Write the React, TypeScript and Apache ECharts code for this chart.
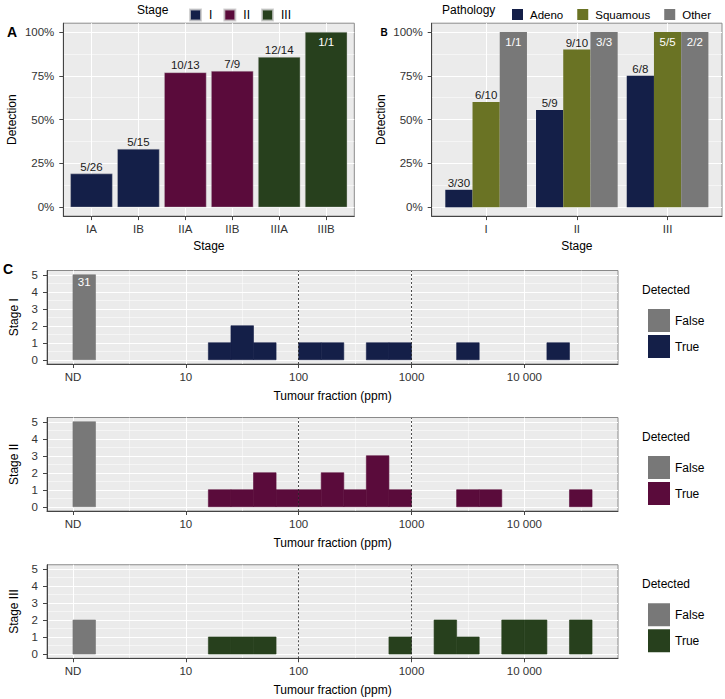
import React, { useEffect, useRef } from 'react';
import * as echarts from 'echarts';

const FONT = "'Liberation Sans', Arial, Helvetica, sans-serif";

// ---------- Panel A: detection by sub-stage ----------
const subStages = ['IA', 'IB', 'IIA', 'IIB', 'IIIA', 'IIIB'];
const subStageGroup = ['I', 'I', 'II', 'II', 'III', 'III'];
const subStageDetected = [5, 5, 10, 7, 12, 1];
const subStageTotal = [26, 15, 13, 9, 14, 1];
const stageGroups = ['I', 'II', 'III'];
const stageColors = ['#141f48', '#5a0b3b', '#27401d'];

// ---------- Panel B: detection by stage and pathology ----------
const pathStages = ['I', 'II', 'III'];
const pathologies = ['Adeno', 'Squamous', 'Other'];
const pathColors = ['#141f48', '#6a7324', '#787878'];
const adenoDetected = [3, 5, 6];
const adenoTotal = [30, 9, 8];
const squamousDetected = [6, 9, 5];
const squamousTotal = [10, 10, 5];
const otherDetected = [1, 3, 2];
const otherTotal = [1, 3, 2];

const pctTicks = [0, 0.25, 0.5, 0.75, 1];
const pctMinor = [0.125, 0.375, 0.625, 0.875];

// ---------- Panel C: tumour fraction histograms (log10 ppm, 0 = ND) ----------
const tfTickValues = [0, 1, 2, 3, 4];
const tfTickLabels = ['ND', '10', '100', '1000', '10 000'];
const tfMinor = [0.5, 1.5, 2.5, 3.5, 4.5];
const tfThresholds = [2, 3];
const binWidth = 0.2;
const countTicks = [0, 1, 2, 3, 4, 5];
const countMinor = [0.5, 1.5, 2.5, 3.5, 4.5];
const countCap = 5;
const falseColor = '#787878';

const rowLabels = ['Stage I', 'Stage II', 'Stage III'];
const ndCounts = [31, 5, 2];
const stage1BinStarts = [1.2, 1.4, 1.6, 2.0, 2.2, 2.6, 2.8, 3.4, 4.2];
const stage1BinCounts = [1, 2, 1, 1, 1, 1, 1, 1, 1];
const stage2BinStarts = [1.2, 1.4, 1.6, 1.8, 2.0, 2.2, 2.4, 2.6, 2.8, 3.4, 3.6, 4.4];
const stage2BinCounts = [1, 1, 2, 1, 1, 2, 1, 3, 1, 1, 1, 1];
const stage3BinStarts = [1.2, 1.4, 1.6, 2.8, 3.2, 3.4, 3.8, 4.0, 4.4];
const stage3BinCounts = [1, 1, 1, 1, 2, 1, 2, 2, 2];
const rowBinStarts = [stage1BinStarts, stage2BinStarts, stage3BinStarts];
const rowBinCounts = [stage1BinCounts, stage2BinCounts, stage3BinCounts];

// ---------- layout ----------
const rowTops = [270.5, 417.5, 564.75];
const rowHeight = 93.5;

const tickText = { fontFamily: FONT, fontSize: 11.5, color: '#333' };
const nameText = { fontFamily: FONT, fontSize: 12, color: '#000' };
const majorSplit = { show: true, lineStyle: { color: '#ffffff', width: 1 } };
const minorSplit = { show: true, lineStyle: { color: '#ffffff', width: 0.5 } };
const axisLineStyle = { show: true, onZero: false, lineStyle: { color: '#444', width: 1 } };
const tickStyle = { show: true, length: 4, lineStyle: { color: '#444', width: 1 } };

function barLabel(det: number, tot: number) {
  const full = det === tot;
  return {
    show: true,
    formatter: `${det}/${tot}`,
    position: full ? 'insideTop' : 'top',
    distance: full ? 4 : 1,
    color: full ? '#ffffff' : '#1a1a1a',
    fontSize: 11.5,
    fontFamily: FONT,
  };
}

function histRender(params: any, api: any) {
  const x0 = api.value(0);
  const x1 = api.value(1);
  const n = api.value(2);
  const shown = Math.min(n, countCap);
  const p0 = api.coord([x0, 0]);
  const p1 = api.coord([x1, shown]);
  const color = api.visual('color');
  const el: any = {
    type: 'rect',
    shape: { x: p0[0], y: p1[1], width: p1[0] - p0[0], height: p0[1] - p1[1] },
    style: { fill: color, stroke: color, lineWidth: 0.6 },
  };
  if (n > countCap) {
    el.textContent = { style: { text: String(n), fill: '#ffffff', fontSize: 11.5, fontFamily: FONT } };
    el.textConfig = { position: 'insideTop', distance: 2 };
  }
  return el;
}

function buildOption() {
  const grid: any[] = [
    { left: 63.3, top: 23.2, width: 291, height: 192.9 },
    { left: 431.7, top: 23.2, width: 290.3, height: 192.9 },
    ...rowTops.map((t) => ({ left: 37.3, top: t, width: 580.7, height: rowHeight })),
  ].map((g) => ({ ...g, show: true, backgroundColor: '#ebebeb', borderColor: '#8a8a8a', borderWidth: 1, containLabel: false }));

  const subIdx = subStages.map((_, i) => i);
  const pathIdx = pathStages.map((_, i) => i);

  const xAxis: any[] = [
    {
      type: 'value', gridIndex: 0, min: -0.6, max: 5.6,
      axisLine: axisLineStyle,
      axisTick: { ...tickStyle, customValues: subIdx },
      axisLabel: { ...tickText, margin: 7, customValues: subIdx, formatter: (v: number) => subStages[Math.round(v)] },
      splitLine: majorSplit,
      name: 'Stage', nameLocation: 'middle', nameGap: 24, nameTextStyle: nameText,
    },
    {
      type: 'value', gridIndex: 1, min: -0.6, max: 2.6,
      axisLine: axisLineStyle,
      axisTick: { ...tickStyle, customValues: pathIdx },
      axisLabel: { ...tickText, margin: 7, customValues: pathIdx, formatter: (v: number) => pathStages[Math.round(v)] },
      splitLine: majorSplit,
      name: 'Stage', nameLocation: 'middle', nameGap: 24, nameTextStyle: nameText,
    },
    ...rowTops.map((_, r) => ({
      type: 'value', gridIndex: 2 + r, min: -0.23, max: 4.83,
      axisLine: axisLineStyle,
      axisTick: { ...tickStyle, customValues: tfTickValues },
      axisLabel: {
        ...tickText, margin: 7, customValues: tfTickValues,
        formatter: (v: number) => tfTickLabels[tfTickValues.indexOf(Math.round(v))],
      },
      splitLine: majorSplit,
      name: 'Tumour fraction (ppm)', nameLocation: 'middle', nameGap: 26, nameTextStyle: nameText,
    })),
    ...rowTops.map((_, r) => ({
      type: 'value', gridIndex: 2 + r, min: -0.23, max: 4.83,
      axisLine: { show: false, onZero: false },
      axisTick: { show: false, customValues: tfMinor },
      axisLabel: { show: false, customValues: tfMinor },
      splitLine: minorSplit,
    })),
  ];

  const pctFmt = (v: number) => `${Math.round(v * 100)}%`;
  const yAxis: any[] = [
    {
      type: 'value', gridIndex: 0, min: -0.05, max: 1.05,
      axisLine: axisLineStyle,
      axisTick: { ...tickStyle, customValues: pctTicks },
      axisLabel: { ...tickText, margin: 9, customValues: pctTicks, formatter: pctFmt },
      splitLine: majorSplit,
      name: 'Detection', nameLocation: 'middle', nameRotate: 90, nameGap: 45, nameTextStyle: nameText,
    },
    {
      type: 'value', gridIndex: 0, min: -0.05, max: 1.05,
      axisLine: { show: false, onZero: false },
      axisTick: { show: false, customValues: pctMinor },
      axisLabel: { show: false, customValues: pctMinor },
      splitLine: minorSplit,
    },
    {
      type: 'value', gridIndex: 1, min: -0.05, max: 1.05,
      axisLine: axisLineStyle,
      axisTick: { ...tickStyle, customValues: pctTicks },
      axisLabel: { ...tickText, margin: 9, customValues: pctTicks, formatter: pctFmt },
      splitLine: majorSplit,
      name: 'Detection', nameLocation: 'middle', nameRotate: 90, nameGap: 45, nameTextStyle: nameText,
    },
    {
      type: 'value', gridIndex: 1, min: -0.05, max: 1.05,
      axisLine: { show: false, onZero: false },
      axisTick: { show: false, customValues: pctMinor },
      axisLabel: { show: false, customValues: pctMinor },
      splitLine: minorSplit,
    },
    ...rowTops.map((_, r) => ({
      type: 'value', gridIndex: 2 + r, min: -0.25, max: 5.25,
      axisLine: axisLineStyle,
      axisTick: { ...tickStyle, customValues: countTicks },
      axisLabel: { ...tickText, margin: 9, customValues: countTicks, formatter: (v: number) => String(Math.round(v)) },
      splitLine: majorSplit,
      name: rowLabels[r], nameLocation: 'middle', nameRotate: 90, nameGap: 27, nameTextStyle: nameText,
    })),
    ...rowTops.map((_, r) => ({
      type: 'value', gridIndex: 2 + r, min: -0.25, max: 5.25,
      axisLine: { show: false, onZero: false },
      axisTick: { show: false, customValues: countMinor },
      axisLabel: { show: false, customValues: countMinor },
      splitLine: minorSplit,
    })),
  ];

  const series: any[] = [];

  // Panel A
  stageGroups.forEach((g, gi) => {
    const data: any[] = [];
    subStages.forEach((_, i) => {
      if (subStageGroup[i] !== g) return;
      data.push({
        value: [i, subStageDetected[i] / subStageTotal[i]],
        label: barLabel(subStageDetected[i], subStageTotal[i]),
      });
    });
    series.push({
      type: 'bar', name: g, xAxisIndex: 0, yAxisIndex: 0, stack: 'stageA', barWidth: '90%',
      itemStyle: { color: stageColors[gi], borderColor: 'rgba(200,200,200,0.8)', borderWidth: 0.5 },
      data,
    });
  });

  // Panel B
  const pathDet = [adenoDetected, squamousDetected, otherDetected];
  const pathTot = [adenoTotal, squamousTotal, otherTotal];
  pathologies.forEach((p, pi) => {
    series.push({
      type: 'bar', name: p, xAxisIndex: 1, yAxisIndex: 2, barGap: '0%', barCategoryGap: '10%',
      itemStyle: { color: pathColors[pi] },
      data: pathStages.map((_, j) => ({
        value: [j, pathDet[pi][j] / pathTot[pi][j]],
        label: barLabel(pathDet[pi][j], pathTot[pi][j]),
      })),
    });
  });

  // Panel C
  rowTops.forEach((_, r) => {
    series.push({
      type: 'custom', name: 'False', xAxisIndex: 2 + r, yAxisIndex: 4 + r,
      itemStyle: { color: falseColor },
      encode: { x: [0, 1], y: 2 },
      renderItem: histRender,
      data: [[0, binWidth, ndCounts[r]]],
    });
    series.push({
      type: 'custom', name: 'True', xAxisIndex: 2 + r, yAxisIndex: 4 + r,
      itemStyle: { color: stageColors[r] },
      encode: { x: [0, 1], y: 2 },
      renderItem: histRender,
      data: rowBinStarts[r].map((s, k) => [s, s + binWidth, rowBinCounts[r][k]]),
      markLine: {
        silent: true, symbol: ['none', 'none'], label: { show: false },
        lineStyle: { color: '#222', width: 0.8, type: [2, 2] },
        data: tfThresholds.map((t) => ({ xAxis: t })),
      },
    });
  });

  const legendText = { fontFamily: FONT, fontSize: 12, color: '#000' };
  const legend: any[] = [
    {
      data: stageGroups, left: 184, top: 3.5, itemWidth: 11, itemHeight: 11, itemGap: 11,
      icon: 'rect', selectedMode: false, textStyle: { ...legendText, padding: [0, 0, 0, 3] },
    },
    {
      data: pathologies, left: 507, top: 3.5, width: 218, itemWidth: 11, itemHeight: 11, itemGap: 14,
      icon: 'rect', selectedMode: false, textStyle: { ...legendText, fontSize: 11.5, padding: [0, 0, 0, 2] },
    },
    ...rowTops.map((t, r) => ({
      orient: 'vertical', left: 643, top: t + 33.5, itemWidth: 22, itemHeight: 23, itemGap: 3,
      icon: 'rect', selectedMode: false, textStyle: { ...legendText, padding: 0 },
      data: [
        { name: 'False', itemStyle: { color: falseColor } },
        { name: 'True', itemStyle: { color: stageColors[r] } },
      ],
    })),
  ];

  const txt = (text: string, x: number, y: number, size: number, bold = false) => ({
    type: 'text', x, y,
    style: { text, fontFamily: FONT, fontSize: size, fontWeight: bold ? 'bold' : 'normal', fill: '#000', textVerticalAlign: 'middle', verticalAlign: 'middle' },
  });

  const graphic = [
    txt('A', 7, 32, 14, true),
    txt('B', 380.5, 32, 10, true),
    txt('C', 3, 269, 14, true),
    txt('Stage', 137, 9.5, 12),
    txt('Pathology', 442, 9.5, 12),
    ...rowTops.map((t) => txt('Detected', 642, t + 19.5, 12)),
  ];

  return {
    animation: false,
    backgroundColor: '#ffffff',
    textStyle: { fontFamily: FONT },
    grid, xAxis, yAxis, series, legend, graphic,
  };
}

export default function App() {
  const ref = useRef<HTMLDivElement>(null);
  useEffect(() => {
    if (!ref.current) return;
    const chart = echarts.init(ref.current, undefined, { renderer: 'svg' });
    chart.setOption(buildOption() as any);
    return () => chart.dispose();
  }, []);
  return <div ref={ref} style={{ position: 'fixed', left: 0, top: 0, width: 725, height: 699 }} />;
}
